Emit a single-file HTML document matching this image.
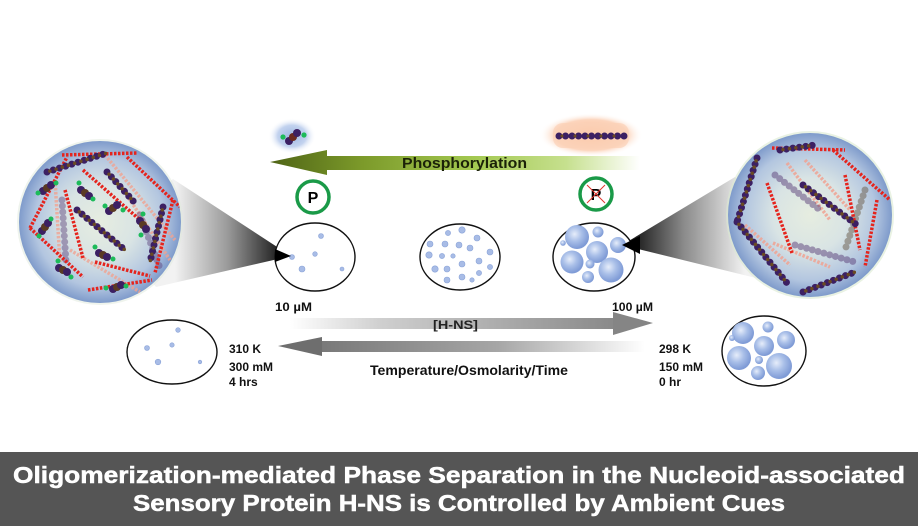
<!DOCTYPE html>
<html><head><meta charset="utf-8"><style>
html,body{margin:0;padding:0;background:#fff;}
svg{display:block;}
text{font-family:"Liberation Sans",Arial,sans-serif;font-weight:bold;}
</style></head><body>
<svg width="918" height="526" viewBox="0 0 918 526" xmlns="http://www.w3.org/2000/svg">
<defs>
 <radialGradient id="sph" cx="0.5" cy="0.5" r="0.5">
  <stop offset="0" stop-color="#e6ede0"/>
  <stop offset="0.45" stop-color="#d9e4e4"/>
  <stop offset="0.8" stop-color="#b3c6e0"/>
  <stop offset="1" stop-color="#7f9bcb"/>
 </radialGradient>
 <radialGradient id="glowB" cx="0.5" cy="0.5" r="0.5">
  <stop offset="0" stop-color="#9db6e2"/>
  <stop offset="0.6" stop-color="#c3d3ef"/>
  <stop offset="1" stop-color="#ffffff" stop-opacity="0"/>
 </radialGradient>
 <radialGradient id="glowO" cx="0.5" cy="0.5" r="0.5">
  <stop offset="0" stop-color="#f9bb95"/>
  <stop offset="0.7" stop-color="#fcd5bd"/>
  <stop offset="1" stop-color="#ffffff" stop-opacity="0"/>
 </radialGradient>
 <radialGradient id="drop" cx="0.4" cy="0.38" r="0.6">
  <stop offset="0" stop-color="#e6edfa"/>
  <stop offset="0.5" stop-color="#a9bfe8"/>
  <stop offset="1" stop-color="#7f9bd6"/>
 </radialGradient>
 <linearGradient id="phos" x1="270" y1="0" x2="640" y2="0" gradientUnits="userSpaceOnUse">
  <stop offset="0" stop-color="#4f6416"/>
  <stop offset="0.25" stop-color="#7c9a2a"/>
  <stop offset="0.55" stop-color="#a3c850"/>
  <stop offset="0.8" stop-color="#c6e08e"/>
  <stop offset="1" stop-color="#ffffff"/>
 </linearGradient>
 <linearGradient id="hns" x1="290" y1="0" x2="653" y2="0" gradientUnits="userSpaceOnUse">
  <stop offset="0" stop-color="#ffffff"/>
  <stop offset="0.25" stop-color="#cfcfcf"/>
  <stop offset="1" stop-color="#7e7e7e"/>
 </linearGradient>
 <linearGradient id="temp" x1="278" y1="0" x2="645" y2="0" gradientUnits="userSpaceOnUse">
  <stop offset="0" stop-color="#6e6e6e"/>
  <stop offset="0.6" stop-color="#a6a6a6"/>
  <stop offset="1" stop-color="#ffffff"/>
 </linearGradient>
 <linearGradient id="coneL" x1="175" y1="0" x2="292" y2="0" gradientUnits="userSpaceOnUse">
  <stop offset="0" stop-color="#f2f2f2"/>
  <stop offset="0.45" stop-color="#9a9a9a"/>
  <stop offset="1" stop-color="#000000"/>
 </linearGradient>
 <linearGradient id="coneR" x1="622" y1="0" x2="745" y2="0" gradientUnits="userSpaceOnUse">
  <stop offset="0" stop-color="#000000"/>
  <stop offset="0.5" stop-color="#8a8a8a"/>
  <stop offset="1" stop-color="#f2f2f2"/>
 </linearGradient>
 <clipPath id="clipL"><circle cx="100" cy="222" r="81"/></clipPath>
 <clipPath id="clipR"><circle cx="810" cy="215" r="82"/></clipPath>
</defs>

<rect width="918" height="526" fill="#fff"/>

<!-- cones -->
<polygon points="173,179 291,256 156,287 110,230" fill="url(#coneL)"/>
<polygon points="622,245 735,177 800,225 776,283" fill="url(#coneR)"/>

<!-- LEFT SPHERE -->
<circle cx="100" cy="222" r="83" fill="#dfe9dc" opacity="0.5"/>
<circle cx="100" cy="222" r="81" fill="url(#sph)"/>
<g clip-path="url(#clipL)">
 <g stroke="#f0a392" stroke-width="3.5" stroke-dasharray="2.5 1.5" fill="none" opacity="0.8">
  <line x1="105" y1="155" x2="175" y2="240"/>
  <line x1="55" y1="180" x2="60" y2="262"/>
  <line x1="70" y1="250" x2="140" y2="292"/>
  <line x1="120" y1="185" x2="170" y2="260"/>
 </g>
 <g stroke-linecap="round" fill="none" opacity="0.45">
  <line x1="62" y1="200" x2="66" y2="262" stroke="#5b3f78" stroke-width="7" stroke-dasharray="0 6"/>
  <line x1="140" y1="215" x2="160" y2="268" stroke="#5b3f78" stroke-width="7" stroke-dasharray="0 6"/>
 </g>
 <g stroke="#e5241d" stroke-width="3.5" stroke-dasharray="2.5 1.5" fill="none">
  <line x1="62" y1="155" x2="137" y2="153"/>
  <line x1="127" y1="157" x2="180" y2="207"/>
  <line x1="173" y1="200" x2="155" y2="273"/>
  <line x1="88" y1="290" x2="152" y2="280"/>
  <line x1="30" y1="228" x2="67" y2="157"/>
  <line x1="30" y1="228" x2="83" y2="277"/>
  <line x1="65" y1="190" x2="83" y2="258"/>
  <line x1="83" y1="170" x2="140" y2="220"/>
  <line x1="95" y1="262" x2="150" y2="276"/>
 </g>
 <g stroke-linecap="round" fill="none">
  <g stroke="#3c2063" stroke-width="7" stroke-dasharray="0 6.5">
   <line x1="47" y1="172" x2="107" y2="153"/>
   <line x1="107" y1="172" x2="135" y2="203"/>
   <line x1="77" y1="210" x2="125" y2="250"/>
   <line x1="163" y1="207" x2="150" y2="262"/>
  </g>
  <g stroke="#6a4a22" stroke-width="3.5" stroke-dasharray="0 6.5" stroke-dashoffset="-3">
   <line x1="47" y1="172" x2="107" y2="153"/>
   <line x1="107" y1="172" x2="135" y2="203"/>
   <line x1="77" y1="210" x2="125" y2="250"/>
   <line x1="163" y1="207" x2="150" y2="262"/>
  </g>
 </g>
 <g>
  <g transform="translate(47,188)"><circle cx="-4" cy="3" r="4" fill="#3c2063"/><circle cx="0" cy="0" r="4" fill="#5a3a24"/><circle cx="4" cy="-3" r="4" fill="#3c2063"/><circle cx="-9" cy="5" r="2.5" fill="#1dbb5a"/><circle cx="9" cy="-5" r="2.5" fill="#1dbb5a"/></g>
  <g transform="translate(85,193)"><circle cx="-4" cy="-3" r="4" fill="#3c2063"/><circle cx="0" cy="0" r="4" fill="#5a3a24"/><circle cx="4" cy="3" r="4" fill="#3c2063"/><circle cx="-6" cy="-10" r="2.5" fill="#1dbb5a"/><circle cx="8" cy="6" r="2.5" fill="#1dbb5a"/></g>
  <g transform="translate(113,208)"><circle cx="-4" cy="3" r="4" fill="#3c2063"/><circle cx="0" cy="0" r="4" fill="#5a3a24"/><circle cx="4" cy="-3" r="4" fill="#3c2063"/><circle cx="-8" cy="-2" r="2.5" fill="#1dbb5a"/><circle cx="10" cy="2" r="2.5" fill="#1dbb5a"/></g>
  <g transform="translate(143,225)"><circle cx="-3" cy="-4" r="4" fill="#3c2063"/><circle cx="0" cy="0" r="4" fill="#5a3a24"/><circle cx="3" cy="4" r="4" fill="#3c2063"/><circle cx="0" cy="-11" r="2.5" fill="#1dbb5a"/><circle cx="-2" cy="10" r="2.5" fill="#1dbb5a"/></g>
  <g transform="translate(45,227)"><circle cx="-3" cy="4" r="4" fill="#3c2063"/><circle cx="0" cy="0" r="4" fill="#5a3a24"/><circle cx="3" cy="-4" r="4" fill="#3c2063"/><circle cx="6" cy="-8" r="2.5" fill="#1dbb5a"/><circle cx="-6" cy="9" r="2.5" fill="#1dbb5a"/></g>
  <g transform="translate(103,255)"><circle cx="-4" cy="-2" r="4" fill="#3c2063"/><circle cx="0" cy="0" r="4" fill="#5a3a24"/><circle cx="4" cy="2" r="4" fill="#3c2063"/><circle cx="-8" cy="-8" r="2.5" fill="#1dbb5a"/><circle cx="10" cy="4" r="2.5" fill="#1dbb5a"/></g>
  <g transform="translate(63,270)"><circle cx="-4" cy="-2" r="4" fill="#3c2063"/><circle cx="0" cy="0" r="4" fill="#5a3a24"/><circle cx="4" cy="2" r="4" fill="#3c2063"/><circle cx="-5" cy="-9" r="2.5" fill="#1dbb5a"/><circle cx="8" cy="7" r="2.5" fill="#1dbb5a"/></g>
  <g transform="translate(117,287)"><circle cx="-4" cy="2" r="4" fill="#3c2063"/><circle cx="0" cy="0" r="4" fill="#5a3a24"/><circle cx="4" cy="-2" r="4" fill="#3c2063"/><circle cx="-11" cy="1" r="2.5" fill="#1dbb5a"/><circle cx="9" cy="-1" r="2.5" fill="#1dbb5a"/></g>
 </g>
</g>

<!-- RIGHT SPHERE -->
<circle cx="810" cy="215" r="84" fill="#dbead0" opacity="0.6"/>
<circle cx="810" cy="215" r="82" fill="url(#sph)"/>
<g clip-path="url(#clipR)">
 <g stroke="#f0a392" stroke-width="3.5" stroke-dasharray="2.5 1.5" fill="none" opacity="0.85">
  <line x1="787" y1="163" x2="830" y2="220"/>
  <line x1="773" y1="243" x2="830" y2="267"/>
  <line x1="745" y1="225" x2="790" y2="265"/>
  <line x1="805" y1="160" x2="850" y2="210"/>
 </g>
 <g stroke-linecap="round" fill="none" opacity="0.5">
  <line x1="795" y1="245" x2="855" y2="262" stroke="#5b3f78" stroke-width="7" stroke-dasharray="0 6"/>
  <line x1="775" y1="175" x2="820" y2="210" stroke="#5b3f78" stroke-width="7" stroke-dasharray="0 6"/>
  <line x1="865" y1="190" x2="845" y2="250" stroke="#6a5a48" stroke-width="7" stroke-dasharray="0 6"/>
 </g>
 <g stroke="#e5241d" stroke-width="3.5" stroke-dasharray="2.5 1.5" fill="none">
  <line x1="772" y1="148" x2="845" y2="150"/>
  <line x1="833" y1="150" x2="890" y2="200"/>
  <line x1="877" y1="200" x2="865" y2="267"/>
  <line x1="767" y1="183" x2="792" y2="253"/>
  <line x1="845" y1="175" x2="860" y2="250"/>
 </g>
 <g stroke-linecap="round" fill="none">
  <g stroke="#3c2063" stroke-width="7" stroke-dasharray="0 6.5">
   <line x1="757" y1="158" x2="737" y2="222"/>
   <line x1="737" y1="222" x2="787" y2="283"/>
   <line x1="803" y1="292" x2="855" y2="272"/>
   <line x1="780" y1="150" x2="815" y2="145"/>
   <line x1="803" y1="185" x2="857" y2="225"/>
  </g>
  <g stroke="#6a4a22" stroke-width="3.5" stroke-dasharray="0 6.5" stroke-dashoffset="-3">
   <line x1="757" y1="158" x2="737" y2="222"/>
   <line x1="737" y1="222" x2="787" y2="283"/>
   <line x1="803" y1="292" x2="855" y2="272"/>
   <line x1="780" y1="150" x2="815" y2="145"/>
   <line x1="803" y1="185" x2="857" y2="225"/>
  </g>
 </g>
</g>

<!-- top molecules with glows -->
<ellipse cx="292" cy="136" rx="24" ry="18" fill="url(#glowB)"/>
<g>
 <circle cx="289" cy="141" r="4" fill="#3c2063"/>
 <circle cx="293" cy="137" r="4" fill="#6a2a20"/>
 <circle cx="297" cy="133" r="4" fill="#3c2063"/>
 <circle cx="283" cy="137" r="2.6" fill="#1dbb5a"/>
 <circle cx="304" cy="135" r="2.6" fill="#1dbb5a"/>
</g>
<ellipse cx="591" cy="135" rx="52" ry="22" fill="url(#glowO)"/>
<rect x="553" y="123" width="76" height="25" rx="10" fill="#fbd2b8" opacity="0.7"/>
<g stroke-linecap="round" fill="none">
 <line x1="559" y1="136" x2="626" y2="136" stroke="#3c2063" stroke-width="7" stroke-dasharray="0 6.5"/>
 <line x1="562" y1="136" x2="626" y2="136" stroke="#6a4a22" stroke-width="3" stroke-dasharray="0 13"/>
</g>

<!-- Phosphorylation arrow -->
<rect x="325" y="156" width="315" height="14" fill="url(#phos)"/>
<polygon points="270,162 327,150 327,175" fill="url(#phos)"/>
<text x="402" y="168" font-size="15" fill="#1b2208" textLength="125" lengthAdjust="spacingAndGlyphs">Phosphorylation</text>

<!-- P circles -->
<circle cx="313" cy="197" r="16" fill="#fff" stroke="#1a9a48" stroke-width="3.5"/>
<text x="313" y="203" font-size="16" fill="#000" text-anchor="middle">P</text>
<circle cx="596" cy="194" r="16" fill="#fff" stroke="#1a9a48" stroke-width="3.5"/>
<text x="596" y="200" font-size="16" fill="#000" text-anchor="middle">P</text>
<line x1="587" y1="185" x2="605" y2="203" stroke="#e0342c" stroke-width="1"/>
<line x1="605" y1="185" x2="587" y2="203" stroke="#e0342c" stroke-width="1"/>

<!-- top ellipses -->
<ellipse cx="315" cy="257" rx="40" ry="34" fill="#fff" stroke="#111" stroke-width="1.4"/>
<g fill="#a8bce6" stroke="#8aa3d8" stroke-width="0.6">
 <circle cx="321" cy="236" r="2.5"/><circle cx="315" cy="254" r="2.3"/><circle cx="292" cy="257" r="2.5"/>
 <circle cx="302" cy="269" r="3"/><circle cx="342" cy="269" r="2"/>
</g>
<ellipse cx="460" cy="257" rx="40" ry="33" fill="#fff" stroke="#111" stroke-width="1.4"/>
<g fill="#a8bce6" stroke="#8aa3d8" stroke-width="0.6">
 <circle cx="462" cy="230" r="3.2"/><circle cx="448" cy="233" r="2.6"/><circle cx="477" cy="238" r="3"/>
 <circle cx="430" cy="244" r="3"/><circle cx="445" cy="244" r="3"/><circle cx="459" cy="245" r="3"/>
 <circle cx="470" cy="248" r="3"/><circle cx="490" cy="252" r="3"/><circle cx="429" cy="255" r="3.2"/>
 <circle cx="442" cy="256" r="2.6"/><circle cx="453" cy="256" r="2.2"/><circle cx="479" cy="261" r="3"/>
 <circle cx="462" cy="264" r="3"/><circle cx="435" cy="269" r="3.2"/><circle cx="447" cy="269" r="3"/>
 <circle cx="490" cy="267" r="2.6"/><circle cx="479" cy="273" r="2.6"/><circle cx="462" cy="277" r="3"/>
 <circle cx="447" cy="280" r="3"/><circle cx="472" cy="280" r="2.2"/>
</g>
<ellipse cx="594" cy="257" rx="41" ry="34" fill="#fff" stroke="#111" stroke-width="1.4"/>
<g fill="url(#drop)">
 <circle cx="577" cy="237" r="12"/><circle cx="598" cy="232" r="5.5"/><circle cx="563" cy="243" r="2.8"/>
 <circle cx="597" cy="252" r="11"/><circle cx="618" cy="245" r="8"/><circle cx="572" cy="262" r="11.5"/>
 <circle cx="590" cy="264" r="4.5"/><circle cx="611" cy="270" r="12.5"/><circle cx="588" cy="277" r="6"/>
</g>
<polygon points="622,245 640,236 640,254" fill="#000"/>
<polygon points="291,256 275,249 275,262" fill="#000"/>

<!-- concentration labels -->
<text x="275" y="311" font-size="11.5" fill="#111" textLength="37" lengthAdjust="spacingAndGlyphs">10 µM</text>
<text x="612" y="311" font-size="11.5" fill="#111" textLength="41" lengthAdjust="spacingAndGlyphs">100 µM</text>

<!-- H-NS arrow -->
<rect x="290" y="318" width="325" height="11" fill="url(#hns)"/>
<polygon points="653,323 613,312 613,335" fill="#858585"/>
<text x="433" y="329" font-size="12" fill="#222" textLength="45" lengthAdjust="spacingAndGlyphs">[H-NS]</text>

<!-- Temperature arrow -->
<rect x="320" y="341" width="325" height="11" fill="url(#temp)"/>
<polygon points="278,346 322,337 322,356" fill="#6e6e6e"/>
<text x="370" y="375" font-size="14" fill="#111" textLength="198" lengthAdjust="spacingAndGlyphs">Temperature/Osmolarity/Time</text>

<!-- bottom circles -->
<ellipse cx="172" cy="352" rx="45" ry="32" fill="#fff" stroke="#111" stroke-width="1.4"/>
<g fill="#a8bce6" stroke="#8aa3d8" stroke-width="0.6">
 <circle cx="178" cy="330" r="2.3"/><circle cx="147" cy="348" r="2.5"/><circle cx="172" cy="345" r="2.2"/>
 <circle cx="158" cy="362" r="2.8"/><circle cx="200" cy="362" r="1.8"/>
</g>
<ellipse cx="764" cy="351" rx="42" ry="35" fill="#fff" stroke="#111" stroke-width="1.4"/>
<g fill="url(#drop)">
 <circle cx="743" cy="333" r="11"/><circle cx="768" cy="327" r="5.5"/><circle cx="786" cy="340" r="9"/>
 <circle cx="732" cy="338" r="3"/><circle cx="764" cy="346" r="10"/><circle cx="739" cy="358" r="12"/>
 <circle cx="759" cy="360" r="4"/><circle cx="779" cy="366" r="13"/><circle cx="758" cy="373" r="7"/>
</g>

<!-- condition labels -->
<g font-size="12" fill="#111">
 <text x="229" y="353">310 K</text>
 <text x="229" y="371">300 mM</text>
 <text x="229" y="386">4 hrs</text>
 <text x="659" y="353">298 K</text>
 <text x="659" y="371">150 mM</text>
 <text x="659" y="386">0 hr</text>
</g>

<!-- title bar -->
<rect x="0" y="452" width="918" height="74" fill="#555555"/>
<text x="13" y="483" font-size="23" fill="#ffffff" stroke="#ffffff" stroke-width="0.5" textLength="892" lengthAdjust="spacingAndGlyphs">Oligomerization-mediated Phase Separation in the Nucleoid-associated</text>
<text x="133" y="511" font-size="23" fill="#ffffff" stroke="#ffffff" stroke-width="0.5" textLength="652" lengthAdjust="spacingAndGlyphs">Sensory Protein H-NS is Controlled by Ambient Cues</text>
</svg>
</body></html>
